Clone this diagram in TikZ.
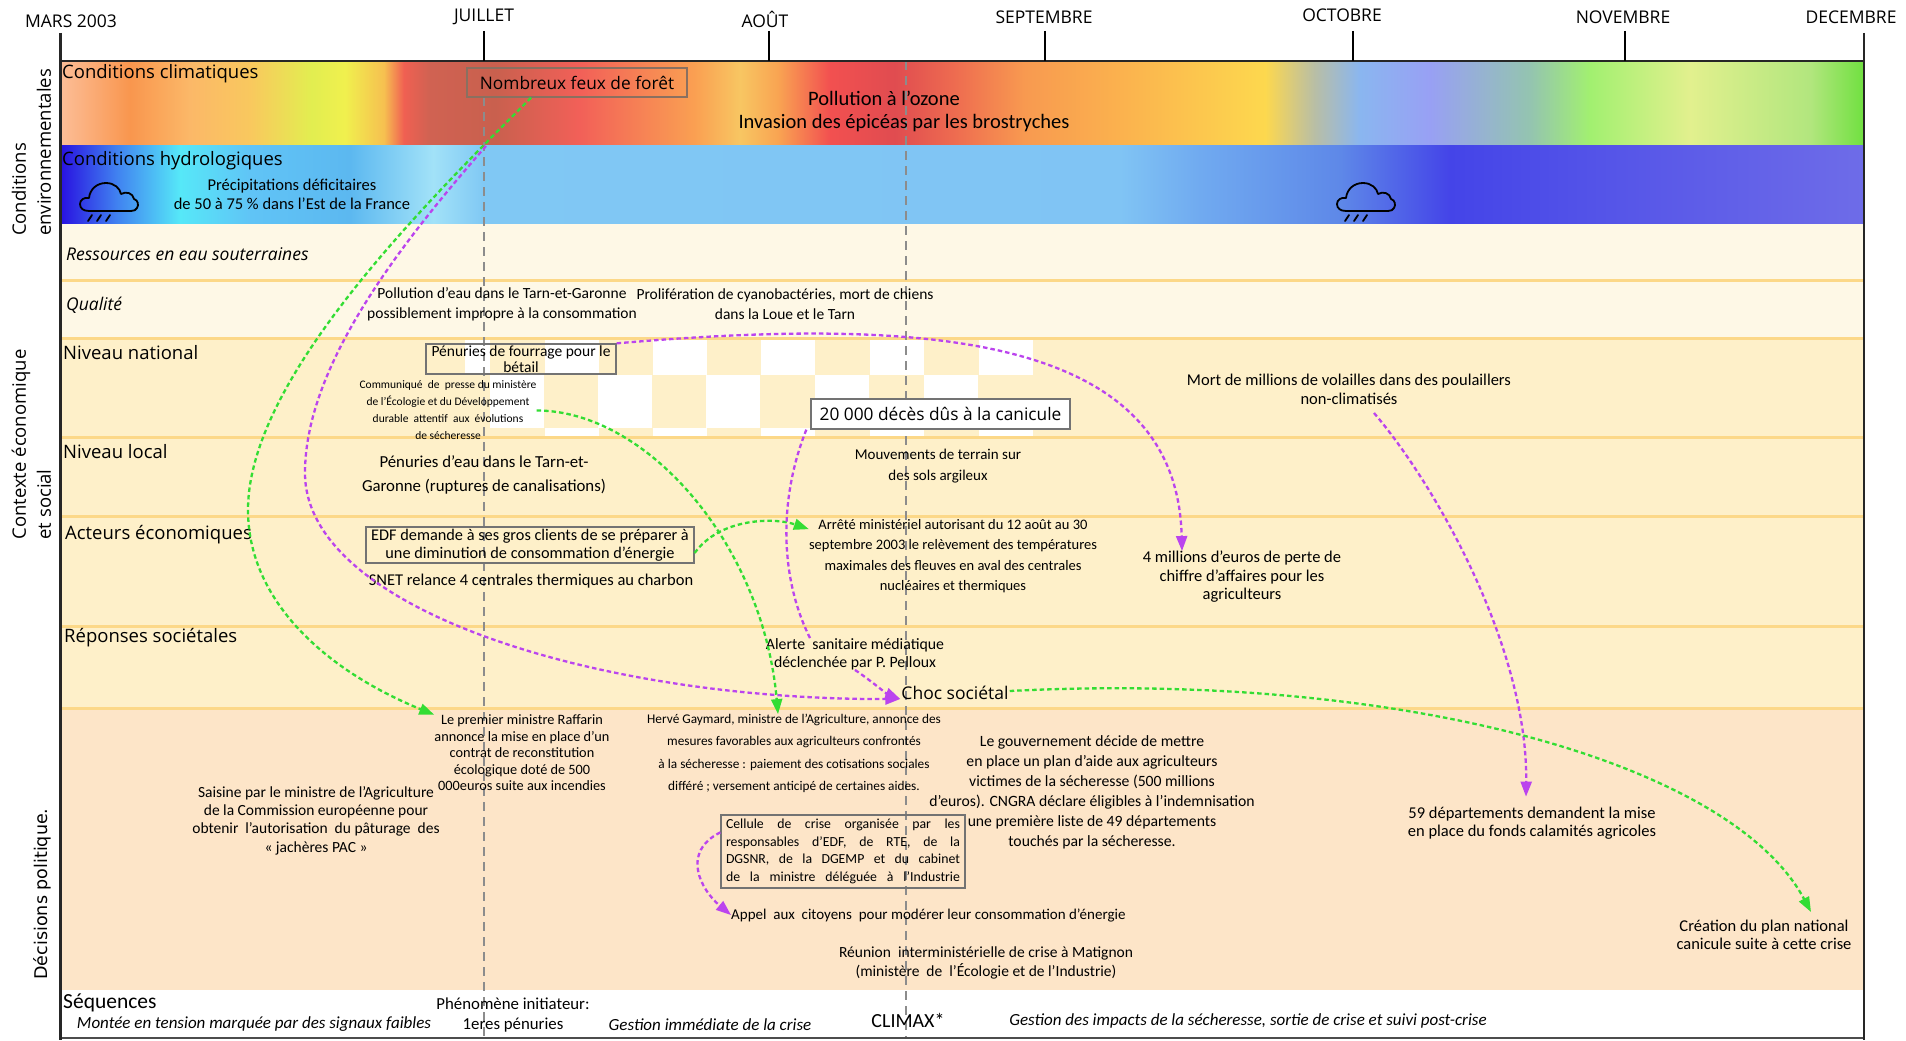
\documentclass[tikz,border=0pt]{standalone}
\usepackage{fontspec}
\setmainfont{Carlito}
\newfontfamily\os{Open Sans}
\newfontfamily\dv{DejaVu Sans}
\usetikzlibrary{arrows.meta}
\newcommand\fsz[2]{\fontsize{#1}{#2}\selectfont}
% climate colours
\definecolor{k01}{HTML}{FCBE98}\definecolor{k02}{HTML}{F9964E}\definecolor{k03}{HTML}{FBB868}
\definecolor{k04}{HTML}{F9C85E}\definecolor{k05}{HTML}{E2EE50}\definecolor{k06}{HTML}{F0F04E}
\definecolor{k07}{HTML}{F6C050}\definecolor{k08}{HTML}{F06052}\definecolor{k09}{HTML}{D06252}
\definecolor{k10}{HTML}{C9604E}\definecolor{k11}{HTML}{F26058}\definecolor{k12}{HTML}{FAA052}
\definecolor{k13}{HTML}{F8C662}\definecolor{k14}{HTML}{F9A452}\definecolor{k15}{HTML}{F25050}
\definecolor{k16}{HTML}{E04C50}\definecolor{k17}{HTML}{EE6C50}\definecolor{k18}{HTML}{F89A50}
\definecolor{k19}{HTML}{FBB34E}\definecolor{k20}{HTML}{FDD84E}\definecolor{k21}{HTML}{B8BEA6}
\definecolor{k22}{HTML}{8AB6F0}\definecolor{k23}{HTML}{98A0F4}\definecolor{k24}{HTML}{94C4B0}
\definecolor{k25}{HTML}{A2F070}\definecolor{k26}{HTML}{E2F08E}\definecolor{k27}{HTML}{B2E67E}
\definecolor{k28}{HTML}{70E040}
% hydro colours
\definecolor{h01}{HTML}{2810E0}\definecolor{h02}{HTML}{4080F0}\definecolor{h03}{HTML}{56E8F8}
\definecolor{h04}{HTML}{60C4F6}\definecolor{h05}{HTML}{5CB8F0}\definecolor{h06}{HTML}{A2E2F8}
\definecolor{h07}{HTML}{80C8F4}\definecolor{h08}{HTML}{80C4F4}\definecolor{h09}{HTML}{70AAF0}
\definecolor{h10}{HTML}{5E88E8}\definecolor{h11}{HTML}{4444E8}\definecolor{h12}{HTML}{5454E8}
\definecolor{h13}{HTML}{6E6CE8}
\definecolor{rowlight}{HTML}{FEF8E6}
\definecolor{rowmid}{HTML}{FEF0C9}
\definecolor{rowdec}{HTML}{FDE5C8}
\definecolor{rowline}{HTML}{FCD888}
\definecolor{garr}{HTML}{33DD33}
\definecolor{parr}{HTML}{BB44EE}
\definecolor{firebox}{HTML}{8A7060}
\pgfdeclarehorizontalshading{climshade}{100bp}{color(0bp)=(k01); color(25bp)=(k01);
 color(26.94bp)=(k02); color(28.60bp)=(k03); color(30.27bp)=(k04); color(31.98bp)=(k05);
 color(32.90bp)=(k06); color(33.98bp)=(k07); color(34.53bp)=(k08); color(35.25bp)=(k09);
 color(37.06bp)=(k10); color(39.41bp)=(k11); color(42.60bp)=(k12); color(43.85bp)=(k13);
 color(44.90bp)=(k14); color(46.34bp)=(k15); color(48.14bp)=(k16); color(49.81bp)=(k17);
 color(51.75bp)=(k18); color(54.52bp)=(k19); color(58.40bp)=(k20); color(59.78bp)=(k21);
 color(61.03bp)=(k22); color(62.97bp)=(k23); color(65.74bp)=(k24); color(67.41bp)=(k25);
 color(70.18bp)=(k26); color(73.50bp)=(k27); color(75bp)=(k28); color(100bp)=(k28)}
\pgfdeclarehorizontalshading{hydroshade}{100bp}{color(0bp)=(h01); color(25bp)=(h01);
 color(26.55bp)=(h02); color(28.33bp)=(h03); color(30.27bp)=(h04); color(33.04bp)=(h05);
 color(35.34bp)=(h06); color(36.75bp)=(h07); color(54.38bp)=(h08); color(56.60bp)=(h09);
 color(60.48bp)=(h10); color(63.53bp)=(h11); color(67.68bp)=(h12); color(75bp)=(h13);
 color(100bp)=(h13)}
\tikzset{
 lbl/.style={anchor=west, inner sep=0pt, font=\os\fsz{18.5}{22}},
 ilbl/.style={anchor=west, inner sep=0pt, font=\os\itshape\fsz{17.5}{20}},
 side/.style={inner sep=0pt, align=left, rotate=90, font=\os\fsz{18.5}{25}},
 txt/.style={inner sep=0pt, align=center},
 tbox/.style={draw=black!55, line width=1.3pt, inner sep=0pt, align=center},
 month/.style={inner sep=0pt, font=\os\fsz{17.5}{20}},
 rowsep/.style={draw=rowline, line width=3pt},
 vdash/.style={draw=black!45, line width=1.5pt, dash pattern=on 9pt off 6pt},
 gline/.style={draw=garr, line width=2.3pt, dash pattern=on 4.5pt off 3pt},
 pline/.style={draw=parr, line width=2.3pt, dash pattern=on 4.5pt off 3pt},
 gcon/.style={gline, -{Triangle[length=15pt,width=11pt]}},
 pcon/.style={pline, -{Triangle[length=15pt,width=11pt]}},
 raincloud/.pic={
  \draw[line width=1.8pt, line join=round] (9,28) .. controls (3,28) and (0,25) .. (0,21)
   .. controls (0,17) and (4,14) .. (9,15) .. controls (10,6) and (17,0) .. (26,0)
   .. controls (34,0) and (40,5) .. (41,11) .. controls (46,8) and (53,10) .. (54,16)
   .. controls (58,17) and (59,22) .. (57,25) .. controls (56,27) and (54,28) .. (51,28) -- cycle;
  \draw[line width=1.8pt, line cap=round] (12,32) -- (8,38) (21,32) -- (17,38) (30,32) -- (26,38);
 }
}
\begin{document}
\begin{tikzpicture}[x=1pt,y=-1pt]
\useasboundingbox (0,0) rectangle (1906,1041);
\fill[white] (0,0) rectangle (1906,1041);
% bands
\shade[shading=climshade] (60,61) rectangle (1864,145);
\shade[shading=hydroshade] (60,145) rectangle (1864,224);
% rows
\fill[rowlight] (60,224) rectangle (1864,338);
\fill[rowmid] (60,338) rectangle (1864,708);
\fill[rowdec] (60,708) rectangle (1864,990);
% checkerboard
\fill[white] (465,338) rectangle (490,375);
\foreach \a in {545,653,761,870,979} {\fill[white] (\a,338) rectangle +(54,37);}
\foreach \a in {490,598,706,815,924} {\fill[white] (\a,375) rectangle +(54,53);}
\foreach \a in {545,653,761,870,979} {\fill[white] (\a,428) rectangle +(54,8);}
% separators
\foreach \yy in {280,338,437,516,626,708} {\draw[rowsep] (60,\yy) -- (1864,\yy);}
% dashed verticals
\draw[vdash] (484,97) -- (484,1038);
\draw[vdash] (906,61) -- (906,1038);
% frame and ticks
\draw[line width=2pt, black!85] (60,61) -- (1864,61);
\draw[line width=2pt, black!70] (60,1038) -- (1864,1038);
\draw[line width=3pt, black!85] (60,33) -- (60,1039.5);
\draw[line width=2.5pt, black!85] (1864,33) -- (1864,1039.5);
\foreach \xx in {484,769,1045,1353,1625} {\draw[line width=1.5pt] (\xx,31) -- (\xx,61);}
% months
\node[month] (mars) at (71,21) {MARS 2003};
\node[month] (juil) at (484,17) {JUILLET};
\node[month] (aout) at (765,19) {AOÛT};
\node[month] (sept) at (1044,17) {SEPTEMBRE};
\node[month] (oct) at (1342,15) {OCTOBRE};
\node[month] (nov) at (1623,17) {NOVEMBRE};
\node[month] (dec) at (1851,17) {DECEMBRE};
% side labels
\node[side] (envlbl) at (31.5,152.5) {Conditions\\environnementales};
\node[side] (ctxlbl) at (31.5,444.5) {Contexte économique\\et social};
\node[inner sep=0pt, rotate=90, font=\dv\fsz{17.5}{20}] (declbl) at (42,894) {Décisions politique.};
% row labels
\node[lbl] (climlbl) at (62,74) {Conditions climatiques};
\node[lbl] (hydlbl) at (62,161) {Conditions hydrologiques};
\node[ilbl] (reslbl) at (66,254) {Ressources en eau souterraines};
\node[ilbl] (quallbl) at (66,305) {Qualité};
\node[lbl] (natlbl) at (63,353) {Niveau national};
\node[lbl] (loclbl) at (63,452) {Niveau local};
\node[lbl] (actlbl) at (65,535) {Acteurs économiques};
\node[lbl] (replbl) at (64,638) {Réponses sociétales};
% band texts
\node[tbox, draw=firebox, minimum width=220pt, minimum height=29pt, font=\os\fsz{17.3}{20}] (fire) at (577,82.5) {Nombreux feux de forêt};
\node[txt, font=\fsz{20.5}{23}] (ozone) at (904,111.5) {Pollution à l'ozone\hspace*{40pt}\\Invasion des épicéas par les brostryches};
\pic at (80,183) {raincloud};
\pic at (1337,183) {raincloud};
\node[txt, font=\fsz{16.5}{19}] (precip) at (292,194.5) {Précipitations déficitaires\\de 50 à 75~\% dans l'Est de la France};
% quality
\node[txt, font=\fsz{15.5}{20}] (pollu) at (502,304) {Pollution d'eau dans le Tarn-et-Garonne\\possiblement impropre à la consommation};
\node[txt, font=\fsz{15.5}{20}] (cyano) at (785,304) {Prolifération de cyanobactéries, mort de chiens\\dans la Loue et le Tarn};
% national
\node[tbox, minimum width=190pt, minimum height=30pt, font=\fsz{15.5}{16}] (four) at (521,359) {Pénuries de fourrage pour le\\bétail};
\node[txt, font=\fsz{11.5}{17}] (comm) at (448,410.5) {Communiqué~ de~ presse du ministère\\de l'Écologie et du Développement\\durable~ attentif~ aux~ évolutions\\de sécheresse};
\node[tbox, fill=white, minimum width=259pt, minimum height=30pt, font=\os\fsz{17.3}{20}] (k20) at (940.5,414) {20~000 décès dûs à la canicule};
\node[txt, font=\fsz{16.5}{19}] (vol) at (1349,389.5) {Mort de millions de volailles dans des poulaillers\\non-climatisés};
% local
\node[txt, font=\fsz{16.8}{24}] (penu) at (484,475) {Pénuries d'eau dans le Tarn-et-\\Garonne (ruptures de canalisations)};
\node[txt, font=\fsz{15}{21}] (mouv) at (938,466) {Mouvements de terrain sur\\des sols argileux};
% acteurs
\node[tbox, minimum width=328pt, minimum height=36pt, font=\fsz{16.3}{18}] (edf) at (530,545) {EDF demande à ses gros clients de se préparer à\\une diminution de consommation d'énergie};
\node[txt, font=\fsz{16.5}{19}] (snet) at (531,581) {SNET relance 4 centrales thermiques au charbon};
\node[txt, font=\fsz{14.5}{20.3}] (arr) at (953,556) {Arrêté ministériel autorisant du 12 août au 30\\septembre 2003 le relèvement des températures\\maximales des fleuves en aval des centrales\\nucléaires et thermiques};
\node[txt, font=\fsz{16.5}{18.5}] (mill) at (1242,577) {4 millions d'euros de perte de\\chiffre d'affaires pour les\\agriculteurs};
% reponses
\node[txt, font=\fsz{15.8}{18}] (alerte) at (855,654) {Alerte~ sanitaire médiatique\\déclenchée par P. Pelloux};
\node[inner sep=1pt, font=\os\fsz{17.5}{20}] (choc) at (955,693) {Choc sociétal};
% decisions
\node[txt, font=\fsz{14.3}{16.5}] (raf) at (522,753) {Le premier ministre Raffarin\\annonce la mise en place d'un\\contrat de reconstitution\\écologique doté de 500\\000euros suite aux incendies};
\node[txt, font=\fsz{13.3}{22.3}] (gay) at (794,753.5) {Hervé Gaymard, ministre de l'Agriculture, annonce des\\mesures favorables aux agriculteurs confrontés\\à la sécheresse : paiement des cotisations sociales\\différé ; versement anticipé de certaines aides.};
\node[txt, font=\fsz{15.5}{18.3}] (sai) at (316,820.5) {Saisine par le ministre de l'Agriculture\\de la Commission européenne pour\\obtenir~ l'autorisation~ du pâturage~ des\\«~jachères PAC~»};
\node[txt, font=\fsz{15.7}{20}] (gouv) at (1092,792) {Le gouvernement décide de mettre\\en place un plan d'aide aux agriculteurs\\victimes de la sécheresse (500 millions\\d'euros). CNGRA déclare éligibles à l'indemnisation\\une première liste de 49 départements\\touchés par la sécheresse.};
\node[tbox, minimum width=244pt, minimum height=73pt, font=\fsz{13.8}{17.7}] (cell) at (843,851.5) {\makebox[234pt][s]{Cellule de crise organisée par les}\\\makebox[234pt][s]{responsables d'EDF, de RTE, de la}\\\makebox[234pt][s]{DGSNR, de la DGEMP et du cabinet}\\\makebox[234pt][s]{de la ministre déléguée à l'Industrie}};
\node[txt, anchor=west, font=\fsz{15}{18}] (appel) at (731,915) {Appel~ aux~ citoyens~ pour modérer leur consommation d'énergie};
\node[txt, font=\fsz{15.5}{19}] (reu) at (986,963) {Réunion~ interministérielle de crise à Matignon\\(ministère~ de~ l'Écologie et de l'Industrie)};
\node[txt, font=\fsz{16.5}{18}] (dep) at (1532,823) {59 départements demandent la mise\\en place du fonds calamités agricoles};
\node[txt, font=\fsz{16.5}{18}] (cre) at (1764,935) {Création du plan national\\canicule suite à cette crise};
% sequences
\node[anchor=west, inner sep=0pt, font=\fsz{21.5}{24}] (seq) at (63,1003) {Séquences};
\node[inner sep=0pt, font=\itshape\fsz{17}{18}] (mont) at (254,1024) {Montée en tension marquée par des signaux faibles};
\node[txt, font=\fsz{16.8}{20}] (phen) at (513,1015) {Phénomène initiateur:\\1eres pénuries};
\node[inner sep=0pt, font=\itshape\fsz{17}{18}] (gim) at (710,1025) {Gestion immédiate de la crise};
\node[inner sep=0pt, font=\fsz{20}{20}] (climax) at (908,1020) {CLIMAX*};
\node[inner sep=0pt, font=\itshape\fsz{17}{18}] (gimp) at (1248,1021) {Gestion des impacts de la sécheresse, sortie de crise et suivi post-crise};
% connectors
\coordinate (gw) at (248,510);
\coordinate (hs) at (486,146);
\coordinate (pw) at (305,473);
\draw[gcon] ([xshift=-46pt]fire.south) .. controls +(-110,110) and +(0,-130) .. (gw)
  .. controls +(0,90) and +(-110,-45) .. (raf.north west);
\draw[pcon] (hs) .. controls +(-80,92) and +(0,-110) .. (pw)
  .. controls +(0,137) and +(-300,1) .. ([yshift=-6pt]choc.west);
\draw[gcon] (comm.east) .. controls +(110,0) and +(-15,-170) .. ([xshift=-16pt]gay.north);
\draw[gcon] ([yshift=-8pt]edf.east) .. controls +(25,-35) and +(-35,-12) .. ([yshift=-10pt]arr.north west);
\draw[pline] ([xshift=-4pt]k20.south west) .. controls +(-28,70) and +(-30,-60) .. ([xshift=-45pt]alerte.north);
\draw[pcon] (alerte.south) .. controls +(15,10) and +(-15,-6) .. ([yshift=-6pt]choc.west);
\draw[pcon] (four.north east) .. controls +(300,-26) and +(-5,-220) .. ([xshift=-60pt]mill.north);
\draw[pcon] ([xshift=25pt,yshift=-8pt]vol.south) .. controls +(60,70) and +(2,-150) .. ([xshift=-6pt,yshift=10pt]dep.north);
\draw[gcon] ([yshift=2pt]choc.east) .. controls +(390,-20) and +(-80,-150) .. ([xshift=47pt,yshift=8pt]cre.north);
\draw[pcon] ([yshift=-18pt]cell.north west) .. controls +(-40,20) and +(-30,-25) .. (appel.west);
\end{tikzpicture}
\end{document}
